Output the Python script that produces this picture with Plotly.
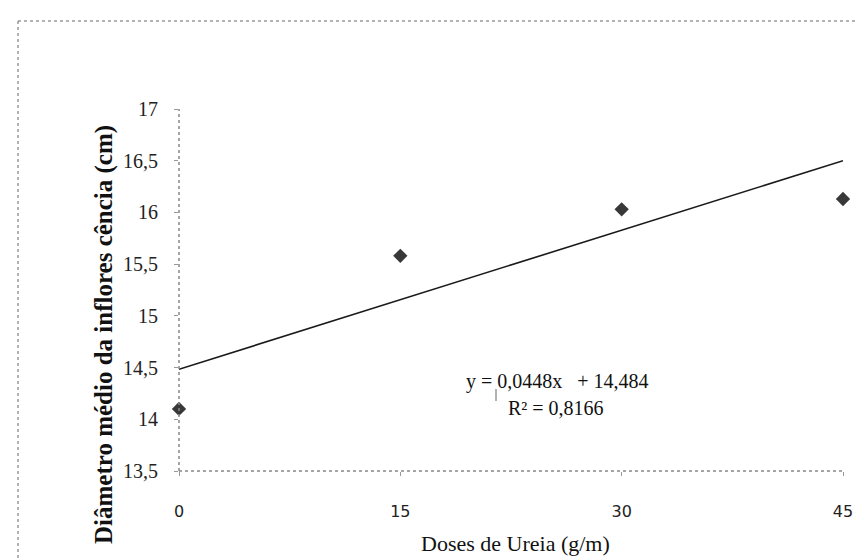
import plotly.graph_objects as go

# Data
doses = [0, 15, 30, 45]
diametro = [14.1, 15.58, 16.03, 16.13]
slope = 0.0448
intercept = 14.484
r2 = 0.8166
x_ticks = [0, 15, 30, 45]
y_ticks = [13.5, 14, 14.5, 15, 15.5, 16, 16.5, 17]

trend_x = [doses[0], doses[-1]]
trend_y = [intercept + slope * v for v in trend_x]

SERIF = "Liberation Serif"

fig = go.Figure()
fig.add_trace(go.Scatter(
    x=trend_x, y=trend_y, mode="lines",
    line=dict(color="#1a1a1a", width=1.6),
    hoverinfo="skip", showlegend=False, cliponaxis=False,
))
fig.add_trace(go.Scatter(
    x=doses, y=diametro, mode="markers",
    marker=dict(symbol="diamond", size=11, color="#383838"),
    showlegend=False, cliponaxis=False,
))

L, R, T, B = 171, 29, 101, 96
W, H = 864, 559
pw, ph = W - L - R, H - T - B

def px(x):
    return (x - L) / pw

def py(y):
    return (H - B - y) / ph

fig.update_layout(
    width=W, height=H,
    margin=dict(l=L, r=R, t=T, b=B),
    paper_bgcolor="white", plot_bgcolor="white",
    font=dict(family=SERIF, color="#111"),
    separators=", ",
    xaxis=dict(
        range=[0, 45], tickvals=x_ticks, showgrid=False, zeroline=False,
        showline=False, ticks="outside", ticklen=4, tickcolor="#999",
        ticklabelstandoff=22,
        tickfont=dict(family="DejaVu Sans", size=16, color="#222"),
    ),
    yaxis=dict(
        range=[13.5, 17], tickvals=y_ticks, showgrid=False, zeroline=False,
        showline=False, ticks="outside", ticklen=4, tickcolor="#999",
        ticklabelstandoff=12,
        tickfont=dict(family=SERIF, size=20, color="#222"),
    ),
    shapes=[
        # axes (dotted, like the scan)
        dict(type="line", xref="paper", yref="paper", x0=0, x1=1, y0=0, y1=0,
             line=dict(color="#888", width=1.5, dash="dot")),
        dict(type="line", xref="paper", yref="paper", x0=0, x1=0, y0=0, y1=1,
             line=dict(color="#888", width=1.5, dash="dot")),
        # outer frame
        dict(type="line", xref="paper", yref="paper", x0=px(10), x1=px(864), y0=py(13), y1=py(13),
             line=dict(color="#999", width=1.5, dash="dot")),
        dict(type="line", xref="paper", yref="paper", x0=px(10), x1=px(10), y0=py(13), y1=py(555),
             line=dict(color="#999", width=1.5, dash="dot")),
        dict(type="line", xref="paper", yref="paper", x0=px(10), x1=px(710), y0=py(555), y1=py(555),
             line=dict(color="#999", width=1.5, dash="dot")),
        # small mark near equation
        dict(type="line", xref="paper", yref="paper", x0=px(488), x1=px(488), y0=py(381), y1=py(393),
             line=dict(color="#666", width=1)),
    ],
    annotations=[
        dict(text="Diâmetro médio da inflores cência (cm)", textangle=-90,
             xref="paper", yref="paper", x=px(96), y=py(327),
             xanchor="center", yanchor="middle", showarrow=False,
             font=dict(family=SERIF, size=25, color="#111", weight="bold")),
        dict(text="Doses de Ureia (g/m)",
             xref="paper", yref="paper", x=px(507), y=py(535),
             xanchor="center", yanchor="middle", showarrow=False,
             font=dict(family=SERIF, size=22, color="#111")),
        dict(text=f"y = {str(slope).replace('.', ',')}x   + {str(intercept).replace('.', ',')}",
             xref="paper", yref="paper", x=px(456), y=py(373),
             xanchor="left", yanchor="middle", showarrow=False,
             font=dict(family=SERIF, size=20, color="#111")),
        dict(text=f"R² = {str(r2).replace('.', ',')}",
             xref="paper", yref="paper", x=px(498), y=py(400),
             xanchor="left", yanchor="middle", showarrow=False,
             font=dict(family=SERIF, size=20, color="#111")),
    ],
)

fig.write_html("out.html")
